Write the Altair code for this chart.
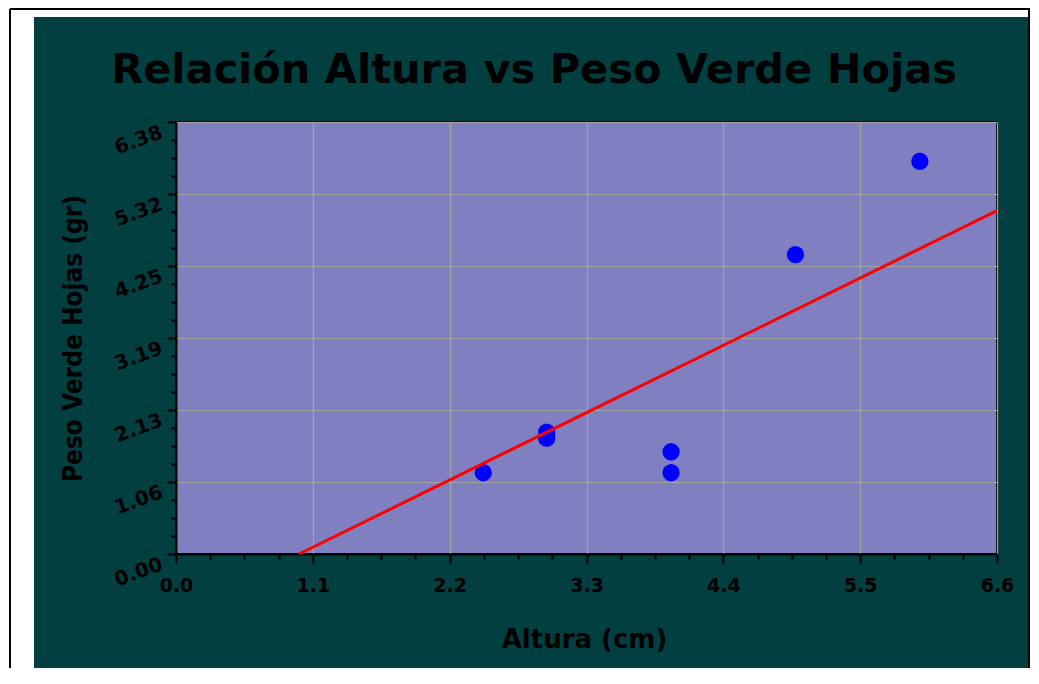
import altair as alt
import pandas as pd

# ---- data ----
altura = [2.47, 2.98, 2.98, 3.98, 3.98, 4.98, 5.98]
peso = [1.20, 1.80, 1.71, 1.51, 1.20, 4.42, 5.80]
linea_x = [0.99, 6.6]
linea_y = [0.0, 5.07]
x_ticks = [0.0, 1.1, 2.2, 3.3, 4.4, 5.5, 6.6]
y_ticks = [0.0, 1.0633, 2.1267, 3.19, 4.2533, 5.3167, 6.38]
x_minor = [round(0.275 * k, 4) for k in range(25) if k % 4]
y_minor = [round(6.38 / 24 * k, 4) for k in range(25) if k % 4]

TEAL = "#023F40"
PLOT_BG = "#8080C0"
FONT = "DejaVu Sans"
NARROW = "DejaVu Sans Condensed, Liberation Sans, sans-serif"

pts = pd.DataFrame({"x": altura, "y": peso})
lin = pd.DataFrame({"x": linea_x, "y": linea_y})
dummy = pd.DataFrame({"d": [0]})

xs = alt.Scale(domain=[0, 6.6], nice=False, zero=False)
ys = alt.Scale(domain=[0, 6.38], nice=False, zero=False)

x_main = alt.Axis(
    orient="bottom", values=x_ticks, format=".1f", grid=True,
    gridColor="#A4A4A4", gridWidth=1.2, tickSize=9, tickWidth=2, tickColor="black",
    domainColor="black", domainWidth=2, labelFont=FONT, labelFontSize=19,
    labelFontWeight="bold", labelColor="black", labelPadding=13,
    labelFlush=False, labelOverlap=False,
    title="Altura (cm)", titleFont=FONT, titleFontSize=26, titleFontWeight="bold",
    titleColor="black", titleX=408, titleY=93, titleBaseline="alphabetic",
    titleAlign="center",
)
y_main = alt.Axis(
    orient="left", values=y_ticks, format=".2f", grid=True,
    gridColor="#A4A4A4", gridWidth=1.2, tickSize=9, tickWidth=2, tickColor="black",
    domainColor="black", domainWidth=2, labelFont=FONT, labelFontSize=20,
    labelFontWeight="bold", labelColor="black", labelPadding=9,
    labelAngle=340, labelAlign="right", labelBaseline="top",
    labelFlush=False, labelOverlap=False,
    title="Peso Verde Hojas (gr)", titleFont=NARROW,
    titleFontSize=26, titleFontWeight="bold", titleColor="black",
    titleAngle=270, titleX=-95, titleY=216, titleBaseline="alphabetic",
    titleAlign="center",
)
x_min_axis = alt.Axis(orient="bottom", values=x_minor, labels=False, grid=False,
                      tickSize=5, tickWidth=2, tickColor="black", domain=False, title="")
y_min_axis = alt.Axis(orient="left", values=y_minor, labels=False, grid=False,
                      tickSize=5, tickWidth=2, tickColor="black", domain=False, title="")

# decorations: white margin and black frame around the teal panel
white_left = alt.Chart(dummy).mark_rect(color="white").encode(
    x=alt.value(-168), x2=alt.value(-142), y=alt.value(-114), y2=alt.value(560))
white_top = alt.Chart(dummy).mark_rect(color="white").encode(
    x=alt.value(-168), x2=alt.value(860), y=alt.value(-114), y2=alt.value(-105))
white_right = alt.Chart(dummy).mark_rect(color="white").encode(
    x=alt.value(852), x2=alt.value(860), y=alt.value(-114), y2=alt.value(560))
frame_l = alt.Chart(dummy).mark_rule(color="black", strokeWidth=2).encode(
    x=alt.value(-166), y=alt.value(-113), y2=alt.value(560))
frame_t = alt.Chart(dummy).mark_rule(color="black", strokeWidth=2).encode(
    x=alt.value(-166), x2=alt.value(854), y=alt.value(-113))
frame_r = alt.Chart(dummy).mark_rule(color="black", strokeWidth=2).encode(
    x=alt.value(853), y=alt.value(-113), y2=alt.value(560))

title = alt.Chart(dummy).mark_text(
    text="Relación Altura vs Peso Verde Hojas", font=FONT, fontSize=41.5,
    fontWeight="bold", color="black", align="center", baseline="alphabetic",
).encode(x=alt.value(358), y=alt.value(-39))

points = alt.Chart(pts).mark_circle(color="#0000FF", opacity=1, size=300).encode(
    x=alt.X("x:Q", scale=xs, axis=x_main),
    y=alt.Y("y:Q", scale=ys, axis=y_main),
)
line = alt.Chart(lin).mark_line(color="#FF0000", strokeWidth=3).encode(
    x=alt.X("x:Q", scale=xs, axis=x_min_axis),
    y=alt.Y("y:Q", scale=ys, axis=y_min_axis),
)

chart = alt.layer(
    white_left, white_top, white_right, frame_l, frame_t, frame_r, title, points, line
).resolve_axis(x="independent", y="independent").properties(
    width=821, height=432,
    autosize=alt.AutoSizeParams(type="none"),
    padding={"left": 168, "top": 114, "right": 34, "bottom": 114},
).configure(background=TEAL).configure_view(
    fill=PLOT_BG, stroke="black", strokeWidth=2
)

chart.save("out.html", embed_options={"renderer": "svg", "actions": False})
